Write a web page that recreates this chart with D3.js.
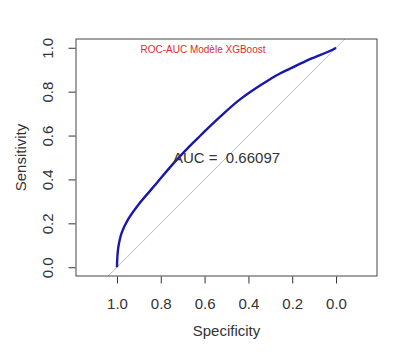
<!DOCTYPE html>
<html>
<head>
<meta charset="utf-8">
<script src="https://cdn.jsdelivr.net/npm/d3@7"></script>
<style>
  body { margin: 0; background: #fff; }
  svg text { font-family: "Liberation Sans", Arial, sans-serif; }
</style>
</head>
<body>
<div id="chart"></div>
<script>
const width = 416;
const height = 352;
const box = { left: 76, right: 377, top: 39, bottom: 276 };

// ROC points
const specificity = [1.0, 0.998, 0.994, 0.988, 0.979, 0.948, 0.903, 0.849, 0.819, 0.743, 0.652, 0.621, 0.53, 0.438, 0.347, 0.301, 0.256, 0.21, 0.119, 0.005, 0.0];
const sensitivity = [0.0, 0.05, 0.09, 0.122, 0.155, 0.22, 0.284, 0.348, 0.383, 0.472, 0.568, 0.598, 0.685, 0.765, 0.828, 0.857, 0.883, 0.905, 0.948, 0.997, 1.0];
const xTicks = [1.0, 0.8, 0.6, 0.4, 0.2, 0.0];
const yTicks = [0.0, 0.2, 0.4, 0.6, 0.8, 1.0];
const aucValue = 0.66097;
const title = 'ROC-AUC Modèle XGBoost';

const svg = d3.select('#chart')
    .append('svg')
    .attr('width', width)
    .attr('height', height);

const x = d3.scaleLinear().domain([1.187, -0.187]).range([box.left, box.right]);
const y = d3.scaleLinear().domain([-0.04, 1.04]).range([box.bottom, box.top]);

svg.append('clipPath')
    .attr('id', 'plotclip')
    .append('rect')
    .attr('x', box.left)
    .attr('y', box.top)
    .attr('width', box.right - box.left)
    .attr('height', box.bottom - box.top);

// diagonal (chance line)
svg.append('line')
    .attr('clip-path', 'url(#plotclip)')
    .attr('x1', x(1.3)).attr('y1', y(-0.3))
    .attr('x2', x(-0.3)).attr('y2', y(1.3))
    .attr('stroke', '#bbb')
    .attr('stroke-width', 1);

// roc curve (sensitivity always grows, so monotone in y)
const points = specificity.map((s, i) => [s, sensitivity[i]]);
const line = d3.line()
    .x(d => x(d[0]))
    .y(d => y(d[1]))
    .curve(d3.curveMonotoneY);

svg.append('path')
    .datum(points)
    .attr('clip-path', 'url(#plotclip)')
    .attr('d', line)
    .attr('fill', 'none')
    .attr('stroke', '#1818ad')
    .attr('stroke-width', 2.4)
    .attr('stroke-linejoin', 'round');

// box
svg.append('rect')
    .attr('x', box.left)
    .attr('y', box.top)
    .attr('width', box.right - box.left)
    .attr('height', box.bottom - box.top)
    .attr('fill', 'none')
    .attr('stroke', '#444')
    .attr('stroke-width', 1);

// x-axis
const xAxis = d3.axisBottom(x)
    .tickValues(xTicks)
    .tickFormat(d3.format('.1f'))
    .tickSize(7)
    .tickPadding(15);

const gx = svg.append('g')
    .attr('transform', `translate(0,${box.bottom + 0.5})`)
    .call(xAxis);
gx.select('.domain').remove();
gx.selectAll('line').attr('stroke', '#333');
gx.selectAll('text')
    .attr('fill', '#333')
    .style('font-size', '15px');

// y-axis, labels turned like in R
const yAxis = d3.axisLeft(y)
    .tickValues(yTicks)
    .tickFormat(d3.format('.1f'))
    .tickSize(7);

const gy = svg.append('g')
    .attr('transform', `translate(${box.left - 0.5},0)`)
    .call(yAxis);
gy.select('.domain').remove();
gy.selectAll('line').attr('stroke', '#333');
gy.selectAll('text')
    .attr('fill', '#333')
    .attr('x', null)
    .attr('dy', null)
    .attr('text-anchor', 'middle')
    .attr('transform', 'translate(-23,0) rotate(-90)')
    .style('font-size', '15px');

// axis titles
svg.append('text')
    .attr('x', (box.left + box.right) / 2)
    .attr('y', 336)
    .attr('text-anchor', 'middle')
    .attr('fill', '#333')
    .style('font-size', '15px')
    .text('Specificity');

svg.append('text')
    .attr('transform', `translate(26,${(box.top + box.bottom) / 2}) rotate(-90)`)
    .attr('text-anchor', 'middle')
    .attr('fill', '#333')
    .style('font-size', '15px')
    .text('Sensitivity');

// title inside the plot
svg.append('text')
    .attr('x', 203)
    .attr('y', 53)
    .attr('text-anchor', 'middle')
    .attr('fill', '#dd2c2c')
    .style('font-size', '10px')
    .text(title);

// auc label
svg.append('text')
    .attr('x', x(0.5))
    .attr('y', y(0.5) + 5)
    .attr('text-anchor', 'middle')
    .attr('fill', '#333')
    .style('font-size', '15px')
    .style('white-space', 'pre')
    .text(`AUC =  ${aucValue}`);
</script>
</body>
</html>
